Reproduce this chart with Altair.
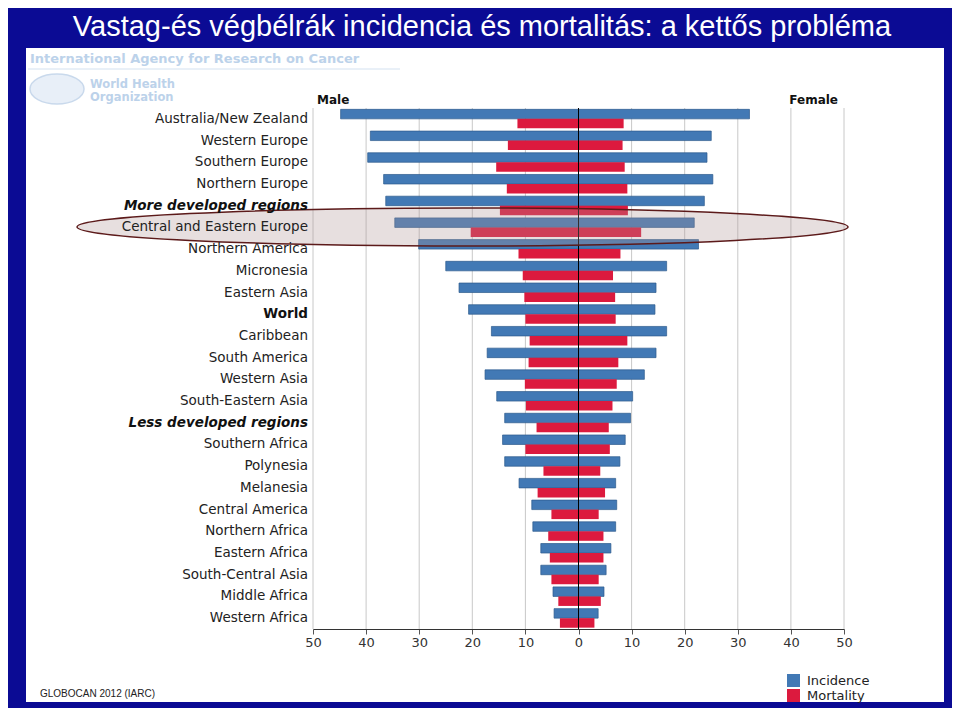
import altair as alt
import pandas as pd

# ---------------- data ----------------
regions = [
    "Australia/New Zealand", "Western Europe", "Southern Europe", "Northern Europe",
    "More developed regions", "Central and Eastern Europe", "Northern America",
    "Micronesia", "Eastern Asia", "World", "Caribbean", "South America",
    "Western Asia", "South-Eastern Asia", "Less developed regions", "Southern Africa",
    "Polynesia", "Melanesia", "Central America", "Northern Africa", "Eastern Africa",
    "South-Central Asia", "Middle Africa", "Western Africa",
]
male_incidence = [44.8, 39.2, 39.7, 36.7, 36.3, 34.6, 30.1, 25.0, 22.5, 20.7, 16.4, 17.2,
                  17.6, 15.4, 13.9, 14.3, 13.9, 11.2, 8.8, 8.6, 7.1, 7.1, 4.8, 4.6]
female_incidence = [32.2, 25.0, 24.2, 25.3, 23.7, 21.8, 22.6, 16.6, 14.6, 14.4, 16.6, 14.6,
                    12.4, 10.2, 9.8, 8.8, 7.8, 7.0, 7.2, 7.0, 6.1, 5.2, 4.8, 3.7]
male_mortality = [11.5, 13.3, 15.5, 13.5, 14.8, 20.3, 11.3, 10.5, 10.2, 10.0, 9.2, 9.4,
                  10.1, 9.9, 7.9, 10.0, 6.6, 7.7, 5.1, 5.7, 5.4, 5.1, 3.8, 3.5]
female_mortality = [8.5, 8.3, 8.7, 9.2, 9.3, 11.8, 7.9, 6.5, 6.9, 7.0, 9.2, 7.5,
                    7.2, 6.4, 5.7, 5.9, 4.1, 5.0, 3.8, 4.7, 4.7, 3.8, 4.2, 3.0]
tick_values = [-50, -40, -30, -20, -10, 0, 10, 20, 30, 40, 50]
measures = ["Incidence", "Mortality"]
measure_colors = ["#4279b5", "#dc1a3e"]
bold_labels = ["World"]
bold_italic_labels = ["More developed regions", "Less developed regions"]

title_text = "Vastag-és végbélrák incidencia és mortalitás: a kettős probléma"
org_line = "International Agency for Research on Cancer"
who_lines = ["World Health", "Organization"]
source_text = "GLOBOCAN 2012 (IARC)"
side_labels = ["Male", "Female"]

# ---------------- tables ----------------
rows = []
for i, r in enumerate(regions):
    rows.append(dict(region=r, sex="Male", measure="Incidence", signed=-male_incidence[i]))
    rows.append(dict(region=r, sex="Female", measure="Incidence", signed=female_incidence[i]))
    rows.append(dict(region=r, sex="Male", measure="Mortality", signed=-male_mortality[i]))
    rows.append(dict(region=r, sex="Female", measure="Mortality", signed=female_mortality[i]))
df = pd.DataFrame(rows)


def label_style(r):
    if r in bold_labels:
        return "bold"
    if r in bold_italic_labels:
        return "bolditalic"
    return "normal"


lab = pd.DataFrame({"region": regions, "style": [label_style(r) for r in regions]})
one = pd.DataFrame({"k": [0]})
ticks_df = pd.DataFrame({"t": tick_values})

# ---------------- geometry (page pixels -> plot coords) ----------------
W, H = 531, 521
OX, OY = 313, 108


def px(x):
    return x - OX


def py(y):
    return y - OY


xscale = alt.Scale(domain=[-50, 50], nice=False, zero=False)
yscale = alt.Scale(domain=regions, paddingInner=0, paddingOuter=0)
cscale = alt.Scale(domain=measures, range=measure_colors)
xaxis = alt.Axis(values=tick_values, labelExpr="abs(datum.value)", grid=False,
                 domainColor="#333333", tickColor="#555555", tickSize=5,
                 labelFont="DejaVu Sans", labelFontSize=13, labelColor="#333333",
                 labelPadding=2, title=None, zindex=1, labelFlush=False,
                 labelOverlap=False)


def xenc(field):
    return alt.X(f"{field}:Q", scale=xscale, axis=xaxis, title=None, stack=None)


yenc = alt.Y("region:N", scale=yscale, axis=None, sort=regions)
legend = alt.Legend(orient="none", legendX=px(787), legendY=py(674), title=None,
                    symbolType="square", symbolSize=169, symbolStrokeWidth=0,
                    labelFont="DejaVu Sans", labelFontSize=13, labelColor="#222222",
                    labelOffset=7, rowPadding=1, padding=0)

panel = alt.Chart(one).mark_rect(color="white").encode(
    x=alt.value(px(26)), x2=alt.value(px(944)), y=alt.value(py(48)), y2=alt.value(py(702)))

grid = alt.Chart(ticks_df).mark_rule(color="#c8c8c8", strokeWidth=1).encode(
    x=xenc("t"), y=alt.value(0), y2=alt.value(H))

inc = alt.Chart(df).transform_filter(alt.datum.measure == "Incidence").mark_bar(
    size=9.5, yOffset=-4.75, stroke="#2c5a8c", strokeWidth=0.7).encode(
    x=xenc("signed"), y=yenc,
    color=alt.Color("measure:N", scale=cscale, legend=legend))

mort = alt.Chart(df).transform_filter(alt.datum.measure == "Mortality").mark_bar(
    size=9.5, yOffset=4.75).encode(
    x=xenc("signed"), y=yenc,
    color=alt.Color("measure:N", scale=cscale, legend=legend))

zero = alt.Chart(pd.DataFrame({"z": [0]})).mark_rule(color="black", strokeWidth=1).encode(
    x=xenc("z"), y=alt.value(0), y2=alt.value(H))

lab_normal = alt.Chart(lab).transform_filter(alt.datum.style == "normal").mark_text(
    align="right", baseline="middle", font="DejaVu Sans", fontSize=13.5, color="#222222").encode(
    x=alt.value(-5), y=yenc, text="region:N")
lab_bold = alt.Chart(lab).transform_filter(alt.datum.style == "bold").mark_text(
    align="right", baseline="middle", font="DejaVu Sans", fontSize=13.5, fontWeight="bold",
    color="#111111").encode(x=alt.value(-5), y=yenc, text="region:N")
lab_bi = alt.Chart(lab).transform_filter(alt.datum.style == "bolditalic").mark_text(
    align="right", baseline="middle", font="DejaVu Sans", fontSize=13.5, fontWeight="bold",
    fontStyle="italic", color="#111111").encode(x=alt.value(-5), y=yenc, text="region:N")

k = 0.5523


def ellipse_shape(b):
    kb = k * b
    return (f"M -1 0 C -1 {-kb:.4f} {-k} {-b:.4f} 0 {-b:.4f} "
            f"C {k} {-b:.4f} 1 {-kb:.4f} 1 0 "
            f"C 1 {kb:.4f} {k} {b:.4f} 0 {b:.4f} "
            f"C {-k} {b:.4f} -1 {kb:.4f} -1 0 Z")


ellipse = alt.Chart(one).mark_point(
    shape=ellipse_shape(19 / 385.5), size=771 ** 2, filled=True, fill="#b09595",
    fillOpacity=0.3, stroke="#5c1a1a", strokeWidth=1.5, opacity=1, strokeOpacity=1).encode(
    x=alt.value(px(462.5)), y=alt.value(py(227)))

emblem = alt.Chart(one).mark_point(
    shape=ellipse_shape(15 / 27), size=54 ** 2, filled=True, fill="#e8eff8", stroke="#c9d9ec",
    strokeWidth=1.5, opacity=1).encode(x=alt.value(px(57)), y=alt.value(py(89)))

title = alt.Chart(one).mark_text(
    text=title_text, font="Liberation Sans", fontSize=29, color="white",
    align="center", baseline="alphabetic").encode(x=alt.value(px(482)), y=alt.value(py(36)))

org = alt.Chart(one).mark_text(
    text=org_line, font="DejaVu Sans", fontSize=13, fontWeight="bold", color="#bcd2ea",
    align="left", baseline="alphabetic").encode(x=alt.value(px(30)), y=alt.value(py(63)))
org_rule = alt.Chart(one).mark_rule(color="#d3e1f0", strokeWidth=1).encode(
    x=alt.value(px(28)), x2=alt.value(px(400)), y=alt.value(py(69)))
who1 = alt.Chart(one).mark_text(
    text=who_lines[0], font="DejaVu Sans", fontSize=11.5, fontWeight="bold", color="#bcd2ea",
    align="left", baseline="alphabetic").encode(x=alt.value(px(90)), y=alt.value(py(88)))
who2 = alt.Chart(one).mark_text(
    text=who_lines[1], font="DejaVu Sans", fontSize=11.5, fontWeight="bold", color="#bcd2ea",
    align="left", baseline="alphabetic").encode(x=alt.value(px(90)), y=alt.value(py(101)))

male_t = alt.Chart(one).mark_text(
    text=side_labels[0], font="DejaVu Sans", fontSize=12, fontWeight="bold", color="#111111",
    align="left", baseline="alphabetic").encode(x=alt.value(px(317)), y=alt.value(py(104)))
female_t = alt.Chart(one).mark_text(
    text=side_labels[1], font="DejaVu Sans", fontSize=12, fontWeight="bold", color="#111111",
    align="right", baseline="alphabetic").encode(x=alt.value(px(838)), y=alt.value(py(104)))

source = alt.Chart(one).mark_text(
    text=source_text, font="Liberation Sans", fontSize=10, color="#222222",
    align="left", baseline="alphabetic").encode(x=alt.value(px(40)), y=alt.value(py(697)))

chart = alt.layer(
    panel, grid, inc, mort, zero, ellipse, lab_normal, lab_bold, lab_bi,
    emblem, title, org, org_rule, who1, who2, male_t, female_t, source,
).properties(
    width=W, height=H, background="#0b0b94",
    padding={"left": 305, "top": 100, "right": 108, "bottom": 79},
    autosize=alt.AutoSizeParams(type="none"),
).configure_view(stroke=None)

chart.save("out.html", embed_options={"renderer": "svg", "actions": False})
